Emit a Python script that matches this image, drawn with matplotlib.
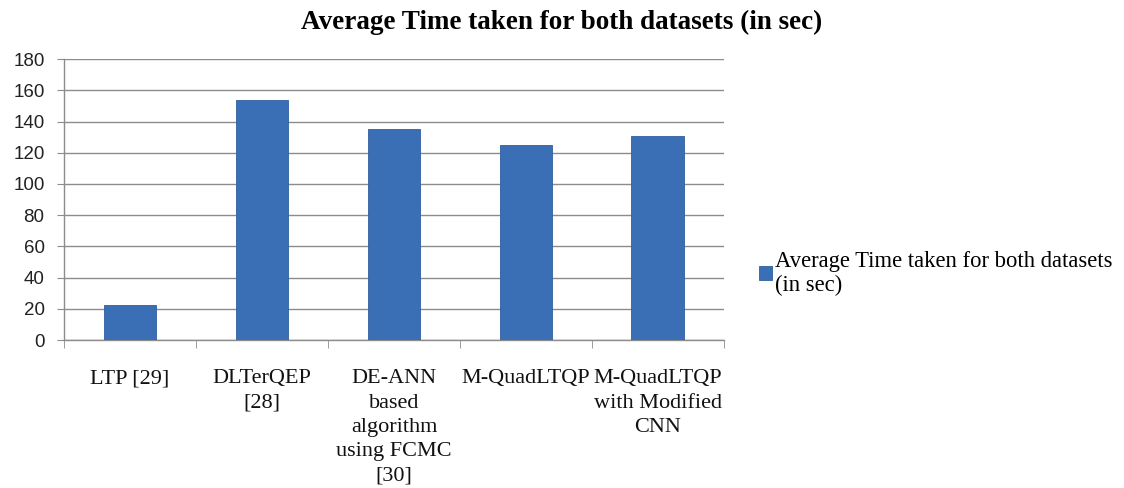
import matplotlib
matplotlib.use("Agg")
import matplotlib.pyplot as plt
import numpy as np

# average runtime per method, seconds
methods = [
    "LTP [29]",
    "DLTerQEP\n[28]",
    "DE-ANN\nbased\nalgorithm\nusing FCMC\n[30]",
    "M-QuadLTQP",
    "M-QuadLTQP\nwith Modified\nCNN",
]
avg_time = [22.5, 154, 135, 125, 131]
y_ticks = [0, 20, 40, 60, 80, 100, 120, 140, 160, 180]

series_label = "Average Time taken for both datasets\n(in sec)"
title = "Average Time taken for both datasets (in sec)"

bar_color = "#3a6fb5"
grid_color = "#8c8c8c"

fig = plt.figure(figsize=(11.24, 4.88), dpi=100)
ax = fig.add_axes([0.057, 0.303, 0.587, 0.576])

x = np.arange(len(methods))
ax.bar(x, avg_time, width=0.4, color=bar_color, edgecolor="#2f5f9e",
       linewidth=0.6, zorder=3, label=series_label)

ax.set_xlim(-0.5, len(methods) - 0.5)
ax.set_ylim(0, 180)
ax.set_yticks(y_ticks)
ax.set_yticklabels([str(v) for v in y_ticks], family="Liberation Sans",
                   fontsize=13.5, color="#222222")

# category labels centred, tick marks on category boundaries
ax.set_xticks(x)
ax.set_xticklabels(methods, family="Liberation Serif", fontsize=16,
                   linespacing=1.38, color="#111111")
ax.tick_params(axis="x", length=0, pad=21)
ax.set_xticks(np.arange(-0.5, len(methods)), minor=True)
ax.tick_params(axis="x", which="minor", length=6, color=grid_color,
               direction="out")
ax.tick_params(axis="y", length=5, color=grid_color, direction="out", pad=9)

ax.yaxis.grid(True, color=grid_color, linewidth=1.0, zorder=0)
ax.set_axisbelow(True)
for side in ["top", "right"]:
    ax.spines[side].set_visible(False)
for side in ["left", "bottom"]:
    ax.spines[side].set_color(grid_color)
    ax.spines[side].set_linewidth(1.0)

fig.suptitle(title, x=0.5, y=0.98, family="Liberation Serif",
             fontweight="bold", fontsize=19.5)

handles, labels = ax.get_legend_handles_labels()
leg = fig.legend(handles, labels, loc="center left",
                 bbox_to_anchor=(0.657, 0.44),
                 frameon=False, handlelength=0.6, handleheight=0.6,
                 handletextpad=0.1, labelspacing=0.2,
                 prop={"family": "Liberation Serif", "size": 16.3})
for t in leg.get_texts():
    t.set_linespacing(1.15)

fig.savefig("out.png", dpi=100)
